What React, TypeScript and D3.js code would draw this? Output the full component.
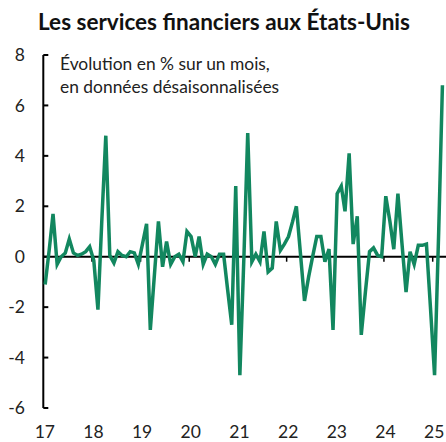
import React from "react";
import * as d3 from "d3";

// Monthly change (%), Jan 2017 .. Mar 2025
const startYear = 2017;
const values: number[] = [
  -1.1, 0.3, 1.7, -0.3, 0.0, 0.15, 0.7, 0.15, 0.05, 0.1, 0.2, 0.4,
  -0.15, -2.1, 1.3, 4.8, 0.05, -0.25, 0.2, 0.05, 0.0, 0.2, 0.15, -0.3,
  0.5, 1.3, -2.9, -0.7, 1.4, -0.4, 0.6, -0.3, 0.0, 0.1, -0.2, 1.0,
  0.8, 0.0, 0.8, -0.3, 0.1, 0.0, -0.3, 0.1, 0.1, -1.3, -2.7, 2.8,
  -4.7, 0.1, 4.9, -0.2, 0.1, -0.2, 1.0, -0.6, -0.45, 1.4, 0.25, 0.5,
  0.8, 1.4, 2.0, 0.1, -1.75, -0.8, 0.0, 0.8, 0.8, -0.2, 0.3, -2.9,
  2.5, 2.8, 1.8, 4.1, 0.5, 1.6, -3.1, -1.4, 0.2, 0.35, 0.05, 0.0,
  2.4, 1.4, 0.3, 2.5, 0.55, -1.4, 0.2, -0.3, 0.45, 0.45, 0.5, -2.0,
  -4.7, 1.0, 6.8,
];
const yTicks = [-6, -4, -2, 0, 2, 4, 6, 8];
const xTickYears = [2017, 2018, 2019, 2020, 2021, 2022, 2023, 2024, 2025];
const title = "Les services financiers aux États-Unis";
const subtitle = ["Évolution en % sur un mois,", "en données désaisonnalisées"];

const W = 446;
const H = 442;
const FONT = "Lato, 'Open Sans', sans-serif";
const GREEN = "#12875f";

export default function App() {
  const x = d3
    .scaleTime()
    .domain([new Date(2017, 0, 1), new Date(2025, 0, 1)])
    .range([43.3, 432.7]);
  const y = d3.scaleLinear().domain([-6, 8]).range([408, 55]);

  const data = values.map((v, i) => ({ d: new Date(startYear, i, 15), v }));
  const line = d3
    .line<{ d: Date; v: number }>()
    .x((p) => x(p.d))
    .y((p) => y(p.v));

  const axisX = x(new Date(2017, 0, 1));

  return (
    <svg
      width={W}
      height={H}
      style={{ position: "absolute", left: 0, top: 0, background: "#fff" }}
      fontFamily={FONT}
    >
      <text
        x={224}
        y={30}
        textAnchor="middle"
        fontSize={23}
        fontWeight={700}
        fill="#111"
        textLength={372}
        lengthAdjust="spacingAndGlyphs"
      >
        {title}
      </text>
      {subtitle.map((s, i) => (
        <text key={i} x={60} y={70 + i * 23} fontSize={17.4} fill="#222">
          {s}
        </text>
      ))}
      {/* y axis */}
      <line
        x1={axisX}
        x2={axisX}
        y1={y(8)}
        y2={y(-6)}
        stroke="#000"
        strokeWidth={2}
      />
      {yTicks.map((t) => (
        <g key={t}>
          <line
            x1={axisX}
            x2={axisX + 5}
            y1={y(t)}
            y2={y(t)}
            stroke="#000"
            strokeWidth={2}
          />
          <text
            x={25}
            y={y(t)}
            dy="0.35em"
            textAnchor="end"
            fontSize={17.5}
            fill="#222"
          >
            {t}
          </text>
        </g>
      ))}
      {/* zero line */}
      <line
        x1={axisX}
        x2={W}
        y1={y(0)}
        y2={y(0)}
        stroke="#000"
        strokeWidth={2}
      />
      {xTickYears.map((yr) => {
        const px = x(new Date(yr, 0, 1));
        return (
          <g key={yr}>
            {yr > 2017 && (
              <line
                x1={px}
                x2={px}
                y1={y(0)}
                y2={y(0) + 5}
                stroke="#000"
                strokeWidth={1.5}
              />
            )}
            <text
              x={px + 1.5}
              y={438}
              textAnchor="middle"
              fontSize={17.5}
              fill="#222"
            >
              {String(yr).slice(2)}
            </text>
          </g>
        );
      })}
      <path
        d={line(data) || ""}
        fill="none"
        stroke={GREEN}
        strokeWidth={3.5}
        strokeLinejoin="miter"
      />
    </svg>
  );
}
